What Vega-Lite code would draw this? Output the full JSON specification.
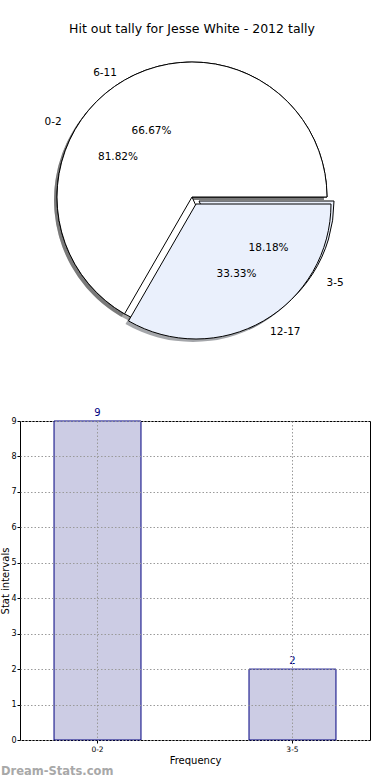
{
  "$schema": "https://vega.github.io/schema/vega-lite/v6.json",
  "background": "white",
  "padding": {"left": 0, "right": 0, "top": 22, "bottom": 0},
  "autosize": {"type": "pad"},
  "config": {"font": "DejaVu Sans", "view": {"stroke": null}},
  "bounds": "flush",
  "spacing": 91,
  "vconcat": [
    {
      "width": 344,
      "height": 266,
      "title": {"text": "Hit out tally for Jesse White - 2012 tally", "fontSize": 12.5, "fontWeight": "normal", "offset": 25, "color": "black"},
      "data": {"values": [
        {"pie": "A", "label": "0-2", "pct": 0.8182},
        {"pie": "A", "label": "3-5", "pct": 0.1818},
        {"pie": "B", "label": "6-11", "pct": 0.6667},
        {"pie": "B", "label": "12-17", "pct": 0.3333}
      ]},
      "transform": [
        {"stack": "pct", "groupby": ["pie"], "sort": [{"field": "pct", "order": "descending"}], "as": ["t0", "t1"]}
      ],
      "encoding": {
        "theta": {"field": "t0", "type": "quantitative", "scale": {"domain": [0, 1], "range": [1.5707963, -4.712389]}},
        "theta2": {"field": "t1"}
      },
      "layer": [
        {"transform": [{"filter": "datum.label == '0-2' || datum.label == '6-11'"}],
         "mark": {"type": "arc", "radius": 135, "fill": "#4d4d4d", "opacity": 0.5, "xOffset": -3, "yOffset": 3}},
        {"transform": [{"filter": "datum.label == '3-5' || datum.label == '12-17'"}],
         "mark": {"type": "arc", "radius": 135, "fill": "#4a4d55", "opacity": 0.5, "xOffset": 1, "yOffset": 10}},
        {"transform": [{"filter": "datum.label == '0-2'"}],
         "mark": {"type": "arc", "radius": 135, "fill": "white", "stroke": "black", "strokeWidth": 1}},
        {"transform": [{"filter": "datum.label == '3-5'"}],
         "mark": {"type": "arc", "radius": 135, "fill": "#eaf0fc", "stroke": "black", "strokeWidth": 1, "xOffset": 7, "yOffset": 4}},
        {"transform": [{"filter": "datum.label == '6-11'"}],
         "mark": {"type": "arc", "radius": 135, "fill": "white", "stroke": "black", "strokeWidth": 1}},
        {"transform": [{"filter": "datum.label == '12-17'"}],
         "mark": {"type": "arc", "radius": 135, "fill": "#eaf0fc", "stroke": "black", "strokeWidth": 1, "xOffset": 4, "yOffset": 7}},
        {"transform": [{"filter": "datum.pie == 'A'"}],
         "mark": {"type": "text", "fontSize": 10.5, "baseline": "middle",
                  "radius": {"expr": "datum.label == '3-5' ? 160 : 155"},
                  "dy": {"expr": "datum.label == '0-2' ? 9 : 0"},
                  "align": {"expr": "datum.label == '0-2' ? 'right' : 'left'"}},
         "encoding": {
           "theta": {"field": "pct", "type": "quantitative", "stack": true, "scale": {"domain": [0, 1], "range": [1.5707963, -4.712389]}},
           "theta2": null,
           "order": {"field": "pct", "sort": "descending"},
           "text": {"field": "label"}
         }},
        {"transform": [{"filter": "datum.pie == 'A'"}],
         "mark": {"type": "text", "fontSize": 10.5, "baseline": "middle", "align": "center",
                  "radius": {"expr": "datum.label == '3-5' ? 91 : 88"},
                  "dy": {"expr": "datum.label == '0-2' ? 8 : 2"}},
         "encoding": {
           "theta": {"field": "pct", "type": "quantitative", "stack": true, "scale": {"domain": [0, 1], "range": [1.5707963, -4.712389]}},
           "theta2": null,
           "order": {"field": "pct", "sort": "descending"},
           "text": {"field": "pct", "format": ".2%"}
         }},
        {"transform": [{"filter": "datum.pie == 'B'"}],
         "mark": {"type": "text", "fontSize": 10.5, "baseline": "middle",
                  "radius": {"expr": "datum.label == '12-17' ? 156 : 150"},
                  "dy": {"expr": "datum.label == '6-11' ? 6 : 0"},
                  "align": {"expr": "datum.label == '6-11' ? 'right' : 'left'"}},
         "encoding": {
           "theta": {"field": "pct", "type": "quantitative", "stack": true, "scale": {"domain": [0, 1], "range": [1.5707963, -4.712389]}},
           "theta2": null,
           "order": {"field": "pct", "sort": "descending"},
           "text": {"field": "label"}
         }},
        {"transform": [{"filter": "datum.pie == 'B'"}],
         "mark": {"type": "text", "fontSize": 10.5, "baseline": "middle", "align": "center",
                  "radius": {"expr": "datum.label == '12-17' ? 89 : 81"},
                  "dy": {"expr": "datum.label == '6-11' ? 4 : 0"}},
         "encoding": {
           "theta": {"field": "pct", "type": "quantitative", "stack": true, "scale": {"domain": [0, 1], "range": [1.5707963, -4.712389]}},
           "theta2": null,
           "order": {"field": "pct", "sort": "descending"},
           "text": {"field": "pct", "format": ".2%"}
         }}
      ]
    },
    {
      "width": 350,
      "height": 319,
      "view": {"stroke": "black", "strokeWidth": 1},
      "title": {"text": "Dream-Stats.com", "orient": "bottom", "anchor": "start", "frame": "bounds", "color": "#a8a8a8", "fontSize": 11.5, "fontWeight": "bold", "offset": 0},
      "data": {"values": [
        {"interval": "0-2", "count": 9},
        {"interval": "3-5", "count": 2}
      ]},
      "encoding": {
        "x": {"field": "interval", "type": "nominal", "sort": null,
              "scale": {"paddingInner": 0.554, "paddingOuter": 0.1745},
              "axis": {"title": "Frequency", "labelAngle": 0, "labelFontSize": 7.5, "labelColor": "black", "tickSize": 3, "tickColor": "black", "labelPadding": 2,
                       "domain": false, "grid": true, "gridDash": [1.5, 2], "gridColor": "#9a9a9a", "bandPosition": 0.5, "zindex": 1,
                       "titleFontSize": 10, "titleFontWeight": "normal", "titleColor": "black", "titlePadding": 3}},
        "y": {"field": "count", "type": "quantitative",
              "scale": {"domain": [0, 9], "nice": false},
              "axis": {"title": "Stat intervals", "values": [0, 1, 2, 3, 4, 5, 6, 7, 8, 9], "labelFontSize": 8, "labelColor": "black", "tickSize": 3, "tickColor": "black", "labelPadding": 1,
                       "domain": false, "grid": true, "gridDash": [1.5, 2], "gridColor": "#9a9a9a", "zindex": 1,
                       "titleFontSize": 10, "titleFontWeight": "normal", "titleColor": "black", "titlePadding": 0}}
      },
      "layer": [
        {"mark": {"type": "bar", "fill": "#cccce4", "stroke": "#000080", "strokeWidth": 1}},
        {"mark": {"type": "text", "baseline": "bottom", "dy": -3, "fontSize": 10, "color": "#000080"},
         "encoding": {"text": {"field": "count"}}}
      ]
    }
  ]
}
